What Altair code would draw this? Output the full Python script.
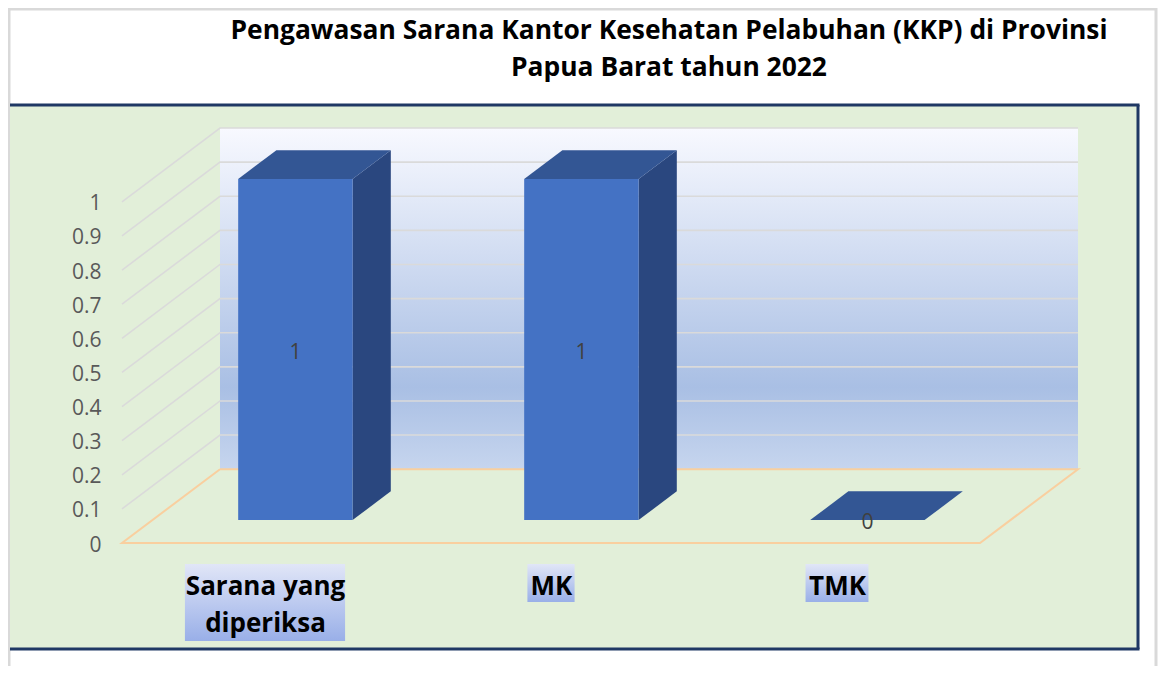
import json
import altair as alt
import pandas as pd

TITLE = ["Pengawasan Sarana Kantor Kesehatan Pelabuhan (KKP) di Provinsi", "Papua Barat tahun 2022"]
CATEGORIES = [["Sarana yang", "diperiksa"], ["MK"], ["TMK"]]
VALUES = [1, 1, 0]
TICKS = [0, 0.1, 0.2, 0.3, 0.4, 0.5, 0.6, 0.7, 0.8, 0.9, 1]
LABEL_WIDTHS = [0.56, 0.165, 0.22]

# oblique projection of depth onto the two scales
DX = 98 / 286
DY = 74 / 342
Z0, Z1 = 0.31, 0.70
BAR_L, BAR_R = 0.3, 0.7
NCAT = len(CATEGORIES)
XMAX = NCAT + DX
YMAX = 1 + DY

x_scale = alt.Scale(domain=[0, XMAX], nice=False, zero=False)
y_scale = alt.Scale(domain=[0, YMAX], nice=False, zero=False)

expr = "[" + ",".join(json.dumps(c if len(c) > 1 else c[0]) for c in CATEGORIES) + "][floor(datum.value)]"
x_axis = alt.Axis(values=[i + 0.5 for i in range(NCAT)], labelExpr=expr, domain=False, ticks=False, grid=False,
                  labelFont="Open Sans", labelFontWeight="bold", labelFontSize=26, labelColor="#000000",
                  labelPadding=30, labelLineHeight=37, labelOverlap=False, labelBound=False, labelFlush=False,
                  labelAngle=0, title=None, zindex=2, labelBaseline="top")
y_axis = alt.Axis(values=TICKS, domain=False, ticks=False, grid=False, labelFont="Open Sans", labelFontSize=21,
                  labelColor="#595959", labelPadding=21, labelOffset=2, title=None, labelOverlap=False,
                  labelBound=False, labelFlush=False, format="~g", zindex=2)

X = lambda f="x", **k: alt.X(f"{f}:Q", scale=x_scale, axis=x_axis, **k)
Y = lambda f="y", **k: alt.Y(f"{f}:Q", scale=y_scale, axis=y_axis, **k)

one = pd.DataFrame({"a": [0]})

outer = alt.Chart(one).mark_rect(fill="#ffffff", stroke="#d9d9d9", strokeWidth=3).encode(
    x=alt.value(-113), x2=alt.value(1034), y=alt.value(-119), y2=alt.value(560))
panel = alt.Chart(one).mark_rect(fill="#e2efd9").encode(
    x=alt.value(-112), x2=alt.value(1016), y=alt.value(-23), y2=alt.value(521))
NAVY = "#1f3864"
border_top = alt.Chart(one).mark_rule(color=NAVY, strokeWidth=3).encode(
    x=alt.value(-112), x2=alt.value(1017.5), y=alt.value(-23))
border_bottom = alt.Chart(one).mark_rule(color=NAVY, strokeWidth=3).encode(
    x=alt.value(-112), x2=alt.value(1017.5), y=alt.value(521))
border_right = alt.Chart(one).mark_rule(color=NAVY, strokeWidth=3).encode(
    x=alt.value(1016), y=alt.value(-23), y2=alt.value(521))

wall_df = pd.DataFrame({"x": [DX], "x2": [NCAT + DX], "y": [DY], "y2": [YMAX]})
wall = alt.Chart(wall_df).mark_rect(
    fill=alt.LinearGradient(gradient="linear", x1=0, y1=0, x2=0, y2=1, stops=[
        alt.GradientStop(color="#f8f9ff", offset=0),
        alt.GradientStop(color="#a9bfe4", offset=0.76),
        alt.GradientStop(color="#c6d5ee", offset=1)])
).encode(x=X(), x2="x2:Q", y=Y(), y2="y2:Q")

grid_rows = []
for t in TICKS[1:]:
    for i, (px, py) in enumerate([(0, t), (DX, t + DY), (NCAT + DX, t + DY)]):
        grid_rows.append({"t": t, "o": i, "x": px, "y": py})
grid = alt.Chart(pd.DataFrame(grid_rows)).mark_line(color="#dadada", strokeWidth=1.6).encode(
    x=X(), y=Y(), detail="t:N", order="o:Q")

floor_pts = [(DX, DY), (0, 0), (NCAT, 0), (NCAT + DX, DY), (DX, DY)]
floor = alt.Chart(pd.DataFrame([{"o": i, "x": p[0], "y": p[1]} for i, p in enumerate(floor_pts)])).mark_line(
    color="#f9cf9f", strokeWidth=2).encode(x=X(), y=Y(), order="o:Q")

top_rows, side_rows, front_rows, text_rows = [], [], [], []
for i, v in enumerate(VALUES):
    for o, z in enumerate([Z0, Z1]):
        top_rows.append({"c": i, "o": o, "y": v + z * DY,
                         "x": i + BAR_L + z * DX, "x2": i + BAR_R + z * DX})
        side_rows.append({"c": i, "o": o, "x": i + BAR_R + z * DX,
                          "y": v + z * DY, "y2": z * DY})
    front_rows.append({"c": i, "x": i + BAR_L + Z0 * DX, "x2": i + BAR_R + Z0 * DX,
                       "y": v + Z0 * DY, "y2": Z0 * DY})
    text_rows.append({"x": i + 0.5 + Z0 * DX, "y": v / 2 + Z0 * DY, "v": str(v)})

side = alt.Chart(pd.DataFrame(side_rows)).mark_area(color="#2a477f", orient="vertical").encode(
    x=X(), y=Y(stack=None), y2="y2:Q", detail="c:N")
top = alt.Chart(pd.DataFrame(top_rows)).mark_area(color="#335694", orient="horizontal").encode(
    y=Y(), x=X(stack=None), x2="x2:Q", detail="c:N")
front = alt.Chart(pd.DataFrame(front_rows)).mark_rect(color="#4472c4").encode(
    x=X(), x2="x2:Q", y=Y(), y2="y2:Q")
value_text = alt.Chart(pd.DataFrame(text_rows)).mark_text(
    font="Open Sans", fontSize=21, color="#404040", align="center", baseline="middle", dy=3).encode(
    x=X(), y=Y(), text="v:N")

lab_rows = []
for i, (cat, w) in enumerate(zip(CATEGORIES, LABEL_WIDTHS)):
    bottom = -0.287 if len(cat) == 2 else -0.173
    lab_rows.append({"x": i + 0.5 - w / 2, "x2": i + 0.5 + w / 2, "y": -0.0615, "y2": bottom})

highlight = alt.Chart(pd.DataFrame(lab_rows)).mark_rect(
    fill=alt.LinearGradient(gradient="linear", x1=0, y1=0, x2=0, y2=1, stops=[
        alt.GradientStop(color="#e1e6f7", offset=0),
        alt.GradientStop(color="#99afe8", offset=1)])
).encode(x=X(), x2="x2:Q", y=Y(), y2="y2:Q")

chart = alt.layer(outer, panel, border_top, border_bottom, border_right, wall, grid, floor,
                  side, top, front, value_text, highlight).properties(
    width=956, height=415,
    padding={"left": 114, "top": 120, "right": 80, "bottom": 123},
    autosize=alt.AutoSizeParams(type="none"),
    background="#ffffff",
    title=alt.TitleParams(text=TITLE, anchor="middle", frame="group", dx=69, dy=74, font="Open Sans",
                          fontSize=26.4, fontWeight="bold", color="#000000", lineHeight=37, baseline="top", offset=0),
).configure_view(stroke=None)

chart.save("out.html", embed_options={"renderer": "svg", "actions": False})
